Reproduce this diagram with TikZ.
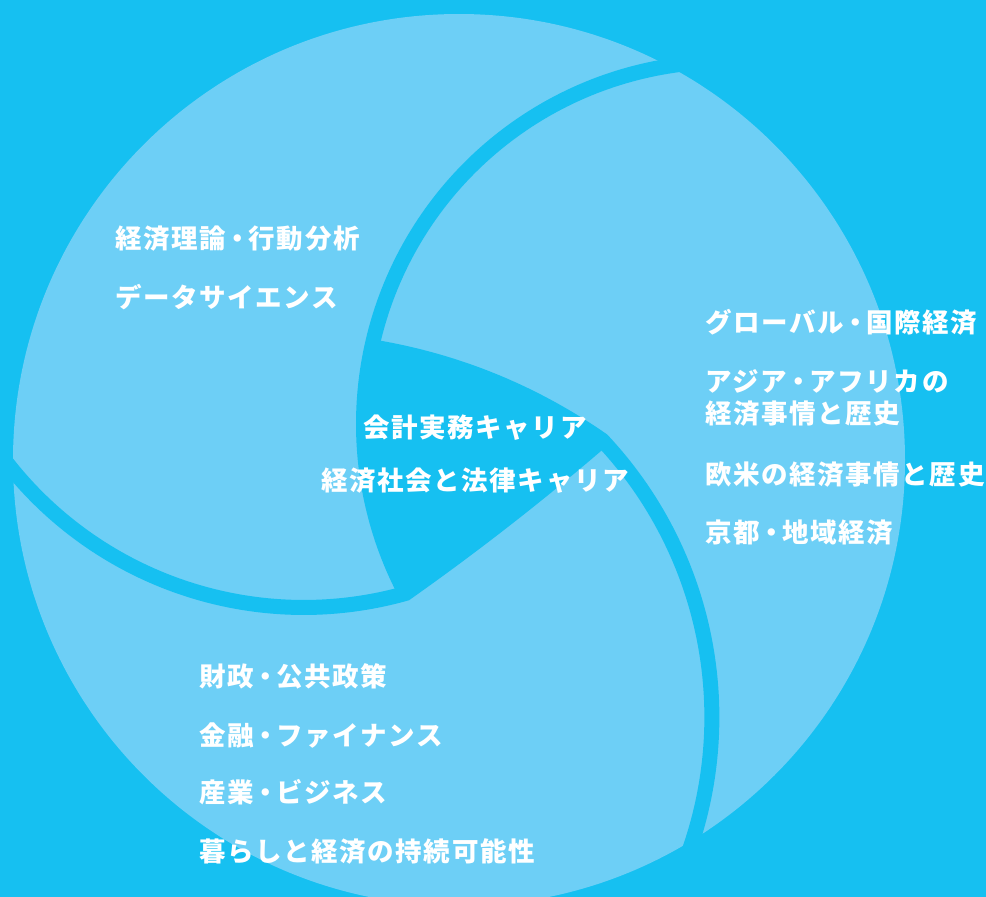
\documentclass[tikz,border=0pt]{standalone}
\usepackage{fontspec}
\newfontfamily\jp{Noto Sans CJK JP}[LetterSpace=6]
\newcommand{\nkg}{\hspace{-1.8pt}・\hspace{-1.8pt}}
\definecolor{bgc}{RGB}{22,192,241}
\definecolor{lightc}{RGB}{109,207,246}
\begin{document}
\begin{tikzpicture}[x=1pt,y=-1pt,
  lbl/.style={text=white, font=\jp\bfseries\fontsize{26.5}{32}\selectfont, inner sep=0pt, anchor=base west},
  cbl/.style={lbl, anchor=base},
  cut/.style={draw=bgc, line width=15pt}]
\fill[bgc] (0,0) rectangle (986,897);
\useasboundingbox (0,0) rectangle (986,897);
\fill[lightc] (459,460) circle[radius=446];
% tips of the three cuts
\coordinate (T1) at (405.7,593.4);
\coordinate (T2) at (371.8,346.8);
\coordinate (T3) at (602.2,440.1);
\coordinate (ca) at (694.4,62.9);
\coordinate (cc) at (-5.1,446.7);
\coordinate (cb) at (685.0,862.1);
% centre region
\fill[bgc] (T2) arc[start angle=192.3, end angle=152.1, radius=362.5]
  .. controls (473.6,545.5) and (539.1,494.4) .. (T3)
  .. controls (532.4,391.7) and (455.6,360.6) .. (T2) -- cycle;
% cuts
\draw[cut] (ca) arc[start angle=265, end angle=152.1, radius=362.5];
\draw[cut] (cc) arc[start angle=145, end angle=74.3, radius=377]
  .. controls (473.6,545.5) and (539.1,494.4) .. (T3);
\draw[cut] (cb) arc[start angle=21, end angle=-43.2, radius=404.6]
  .. controls (532.4,391.7) and (455.6,360.6) .. (T2);
% labels
\node[lbl] (a1) at (115,248) {経済理論\nkg 行動分析};
\node[lbl] (a2) at (115,307) {データサイエンス};
\node[lbl] (b1) at (705,332) {グローバル\nkg 国際経済};
\node[lbl, anchor=west, align=left] (b2) at (705,398) {アジア\nkg アフリカの\\経済事情と歴史};
\node[lbl] (b3) at (705,484) {欧米の経済事情と歴史};
\node[lbl] (b4) at (705,542) {京都\nkg 地域経済};
\node[lbl] (c1) at (199,686) {財政\nkg 公共政策};
\node[lbl] (c2) at (199,745) {金融\nkg ファイナンス};
\node[lbl] (c3) at (199,802) {産業\nkg ビジネス};
\node[lbl] (c4) at (199,861) {暮らしと経済の持続可能性};
\node[cbl] (m1) at (475,437) {会計実務キャリア};
\node[cbl] (m2) at (475,490) {経済社会と法律キャリア};
\end{tikzpicture}
\end{document}
